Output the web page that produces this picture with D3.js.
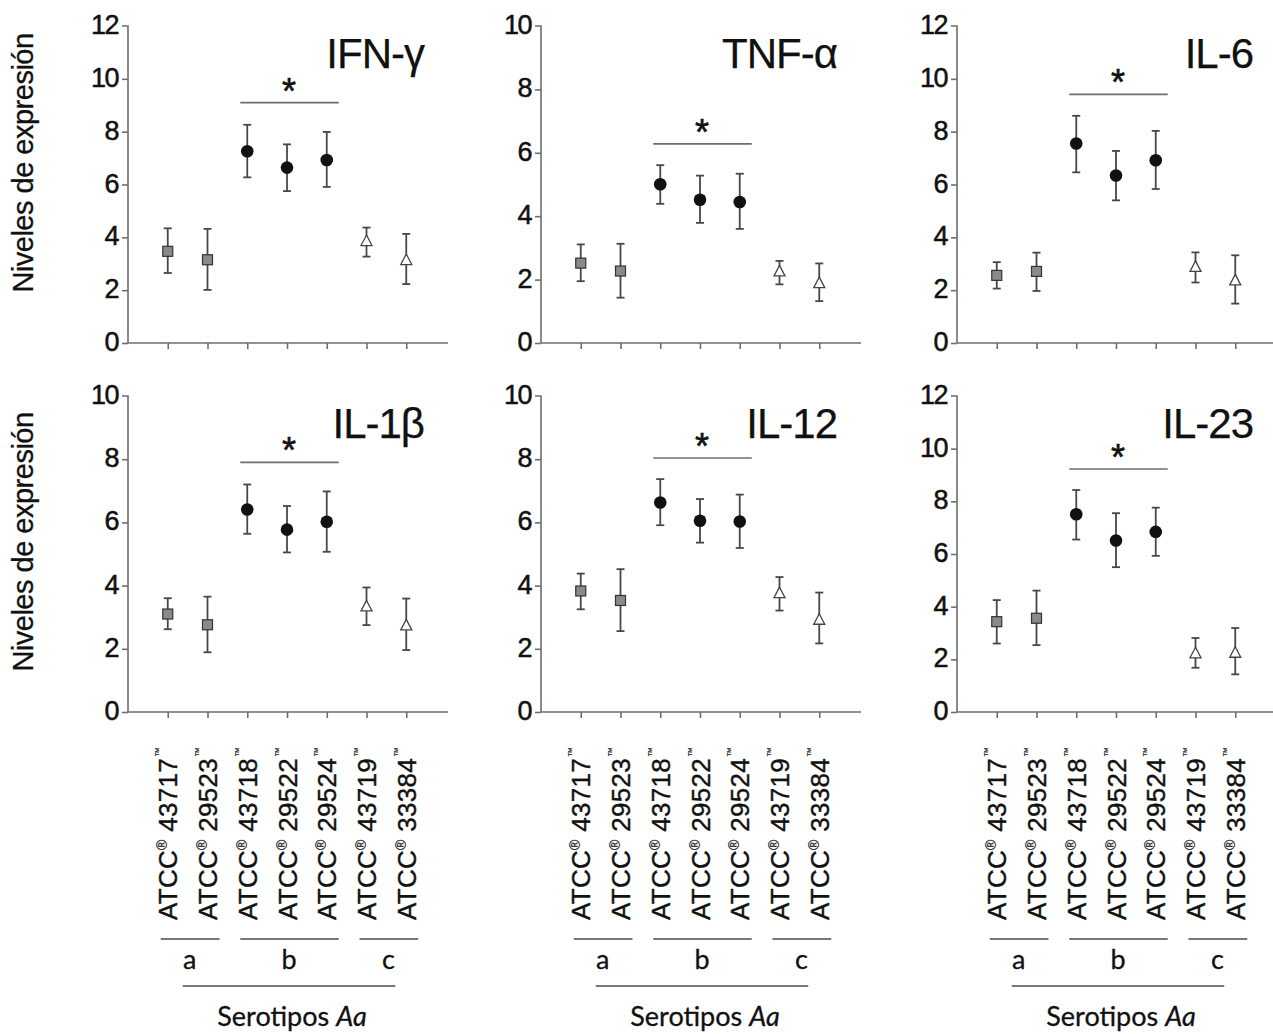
<!DOCTYPE html>
<html>
<head>
<meta charset="utf-8">
<script src="https://cdn.jsdelivr.net/npm/d3@7"></script>
<style>
  html, body { margin: 0; padding: 0; background: #fff; }
  svg { display: block; }
</style>
</head>
<body>
<svg id="chart" width="1273" height="1034"></svg>
<script>
// ---------------- DATA ----------------
const strainIds = ["43717", "29523", "43718", "29522", "29524", "43719", "33384"];
const serotypes = ["a", "a", "b", "b", "b", "c", "c"];
const groupLabels = ["a", "b", "c"];
const titles = ["IFN-\u03b3", "TNF-\u03b1", "IL-6", "IL-1\u03b2", "IL-12", "IL-23"];
const yMaxes = [12, 10, 12, 10, 10, 12];
const yTicksStep = 2;
const meanValues = [
  [3.47, 3.15, 7.26, 6.64, 6.93, 3.86, 3.14],
  [2.52, 2.27, 5.01, 4.52, 4.45, 2.26, 1.89],
  [2.56, 2.71, 7.55, 6.34, 6.92, 2.88, 2.37],
  [3.10, 2.76, 6.41, 5.77, 6.02, 3.34, 2.74],
  [3.83, 3.53, 6.63, 6.05, 6.03, 3.76, 2.92],
  [3.43, 3.56, 7.51, 6.51, 6.84, 2.23, 2.25]
];
const upperValues = [
  [4.34, 4.32, 8.26, 7.52, 7.99, 4.37, 4.13],
  [3.11, 3.13, 5.61, 5.28, 5.34, 2.59, 2.51],
  [3.06, 3.42, 8.60, 7.27, 8.03, 3.43, 3.32],
  [3.60, 3.65, 7.20, 6.52, 6.98, 3.94, 3.59],
  [4.38, 4.52, 7.37, 6.74, 6.88, 4.27, 3.78],
  [4.25, 4.61, 8.43, 7.55, 7.76, 2.81, 3.19]
];
const lowerValues = [
  [2.65, 2.01, 6.27, 5.75, 5.91, 3.27, 2.23],
  [1.95, 1.43, 4.39, 3.79, 3.60, 1.85, 1.32],
  [2.06, 1.97, 6.46, 5.40, 5.83, 2.29, 1.49],
  [2.62, 1.89, 5.64, 5.05, 5.07, 2.75, 1.96],
  [3.25, 2.56, 5.91, 5.36, 5.19, 3.21, 2.17],
  [2.60, 2.54, 6.55, 5.50, 5.93, 1.68, 1.43]
];
const sigLevels = [9.1, 6.28, 9.41, 7.9, 8.04, 9.23];
const yAxisLabel = "Niveles de expresi\u00f3n";
const xGroupTitle = "Serotipos ";
const xGroupTitleItalic = "Aa";

// ---------------- LAYOUT ----------------
const svg = d3.select("#chart");
const colX = [128, 541, 957];
const colW = 318;
const rowRange = [[343, 26], [712, 396]];
const axisColor = "#6e6e6e";
const barColor = "#474747";
const numFont = "Liberation Sans, Arial, Helvetica, sans-serif";
const gillFont = "Gill Sans, Gill Sans MT, Lato, Open Sans, sans-serif";

function heavy(sel, w) {
  return sel.attr("stroke", "#111").attr("stroke-width", w).attr("paint-order", "stroke");
}

titles.forEach((title, p) => {
  const col = p % 3, row = Math.floor(p / 3);
  const x = d3.scaleLinear().domain([0, 8]).range([colX[col], colX[col] + colW]);
  const y = d3.scaleLinear().domain([0, yMaxes[p]]).range(rowRange[row]);
  const g = svg.append("g");

  // Y axis
  const yAxis = d3.axisLeft(y)
    .tickValues(d3.range(0, yMaxes[p] + 0.001, yTicksStep))
    .tickSize(6).tickPadding(4).tickFormat(d3.format("d"));
  const ya = g.append("g").attr("transform", `translate(${colX[col]},0)`).call(yAxis);
  ya.select(".domain").attr("stroke", axisColor).attr("stroke-width", 1.6)
    .attr("d", `M-6,${y(yMaxes[p])}H0V${y(0)}`);
  ya.selectAll(".tick line").attr("stroke", axisColor).attr("stroke-width", 1.6);
  const tt = ya.selectAll(".tick text").attr("font-family", numFont).attr("font-size", 27)
    .attr("letter-spacing", -1.5).attr("fill", "#111").attr("dy", "0.28em");
  heavy(tt, 0.5);
  ya.select(".tick:last-of-type line").remove();

  // X axis
  const xAxis = d3.axisBottom(x).tickValues(d3.range(1, 8)).tickSize(6).tickFormat("");
  const xa = g.append("g").attr("transform", `translate(0,${y(0)})`).call(xAxis);
  xa.select(".domain").attr("stroke", axisColor).attr("stroke-width", 1.6)
    .attr("d", `M${x(0)},0H${x(8) + 2}`);
  xa.selectAll(".tick line").attr("stroke", axisColor).attr("stroke-width", 1.6);

  // Title
  heavy(g.append("text").attr("x", x(8) - 22).attr("y", y(yMaxes[p]) + 42)
    .attr("text-anchor", "end").attr("font-family", numFont)
    .attr("font-size", 42).attr("letter-spacing", -1).attr("fill", "#111").text(title), 0.25);

  // Significance line and star
  g.append("line").attr("x1", x(3) - 7).attr("x2", x(5) + 12)
    .attr("y1", y(sigLevels[p])).attr("y2", y(sigLevels[p]))
    .attr("stroke", axisColor).attr("stroke-width", 1.6);
  heavy(g.append("text").attr("x", x(4) + 2).attr("y", y(sigLevels[p]) + 1)
    .attr("text-anchor", "middle").attr("font-family", numFont)
    .attr("font-size", 36).attr("fill", "#111").text("*"), 0.6);

  // Error bars
  const idx = d3.range(strainIds.length);
  const eb = g.append("g").attr("stroke", barColor).attr("stroke-width", 1.8).attr("fill", "none");
  idx.forEach(i => {
    const cx = x(i + 1);
    eb.append("line").attr("x1", cx).attr("x2", cx)
      .attr("y1", y(upperValues[p][i])).attr("y2", y(lowerValues[p][i]));
    eb.append("line").attr("x1", cx - 4).attr("x2", cx + 4)
      .attr("y1", y(upperValues[p][i])).attr("y2", y(upperValues[p][i]));
    eb.append("line").attr("x1", cx - 4).attr("x2", cx + 4)
      .attr("y1", y(lowerValues[p][i])).attr("y2", y(lowerValues[p][i]));
  });

  // Markers
  idx.forEach(i => {
    const cx = x(i + 1), cy = y(meanValues[p][i]);
    const s = serotypes[i];
    if (s === "a") {
      g.append("rect").attr("x", cx - 5).attr("y", cy - 5).attr("width", 10).attr("height", 10)
        .attr("fill", "#8a8a8a").attr("stroke", "#333").attr("stroke-width", 1.2);
    } else if (s === "b") {
      g.append("circle").attr("cx", cx).attr("cy", cy).attr("r", 6.3).attr("fill", "#111");
    } else {
      g.append("path")
        .attr("d", `M${cx},${cy - 6}L${cx + 5.5},${cy + 4.5}L${cx - 5.5},${cy + 4.5}Z`)
        .attr("fill", "#fff").attr("stroke", "#444").attr("stroke-width", 1.3);
    }
  });

  // Y axis title (first column)
  if (col === 0) {
    const cyLab = row === 0 ? 163 : 542;
    heavy(svg.append("text").attr("transform", `translate(33,${cyLab}) rotate(-90)`)
      .attr("text-anchor", "middle").attr("font-family", numFont)
      .attr("font-size", 29).attr("letter-spacing", -0.5).attr("fill", "#111").text(yAxisLabel), 0.3);
  }

  // X category labels (bottom row)
  if (row === 1) {
    idx.forEach(i => {
      const t = g.append("text")
        .attr("transform", `translate(${x(i + 1) + 9.5},920) rotate(-90)`)
        .attr("text-anchor", "start").attr("font-family", numFont)
        .attr("font-size", 26).attr("letter-spacing", 0.3).attr("fill", "#111");
      heavy(t, 0.4);
      t.append("tspan").text("ATCC");
      t.append("tspan").attr("font-size", 14).attr("dy", -10).attr("stroke-width", 0.2).text("\u00ae");
      t.append("tspan").attr("dy", 10).text("\u00a0" + strainIds[i]);
      t.append("tspan").attr("font-size", 10).attr("dy", -15).attr("dx", 1).attr("stroke-width", 0.2).text("\u2122");
    });
    // Group lines and letters
    groupLabels.forEach(gl => {
      const members = idx.filter(i => serotypes[i] === gl);
      const first = d3.min(members) + 1, last = d3.max(members) + 1;
      g.append("line").attr("x1", x(first) - 7).attr("x2", x(last) + 12)
        .attr("y1", 939).attr("y2", 939).attr("stroke", "#777").attr("stroke-width", 2);
      heavy(g.append("text").attr("x", (x(first) + x(last)) / 2 + 2).attr("y", 969)
        .attr("text-anchor", "middle").attr("font-family", gillFont)
        .attr("font-size", 27).attr("fill", "#111").text(gl), 0.3);
    });
    g.append("line").attr("x1", x(1) + 15).attr("x2", x(7) - 11)
      .attr("y1", 986).attr("y2", 986).attr("stroke", "#777").attr("stroke-width", 2);
    const st = g.append("text").attr("x", x(4) + 5).attr("y", 1026)
      .attr("text-anchor", "middle").attr("font-family", gillFont)
      .attr("font-size", 27).attr("fill", "#111");
    heavy(st, 0.3);
    st.append("tspan").text(xGroupTitle);
    st.append("tspan").attr("font-style", "italic").text(xGroupTitleItalic);
  }
});
</script>
</body>
</html>
